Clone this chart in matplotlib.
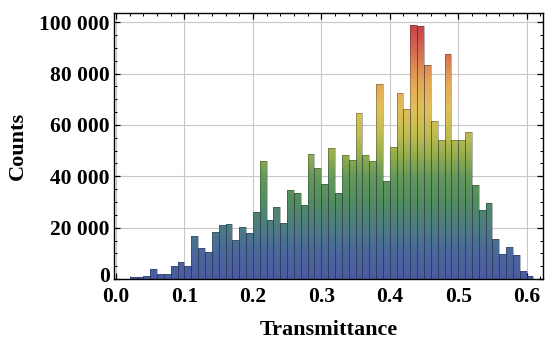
import matplotlib
import numpy as np
import matplotlib.pyplot as plt
from matplotlib.colors import LinearSegmentedColormap
from matplotlib.patches import PathPatch
from matplotlib.path import Path
from matplotlib.ticker import FuncFormatter, MultipleLocator
from matplotlib.transforms import ScaledTranslation

matplotlib.use("Agg")

# histogram data: bins of width 0.01 starting at 0.0
BIN_WIDTH = 0.01
bin_starts = [round(i * BIN_WIDTH, 2) for i in range(62)]
counts = [
    0, 0, 800, 800, 1200, 3900, 2000, 2000, 5200, 6500,
    5000, 16600, 12000, 10400, 18200, 21000, 21300, 15200, 20300, 18000,
    26300, 46100, 23100, 28000, 21800, 34700, 33500, 29000, 48700, 43200,
    37000, 51200, 33500, 48400, 46400, 64600, 48100, 45800, 75800, 38200,
    51300, 72400, 66300, 98800, 98400, 83200, 61700, 54200, 87400, 54200,
    54200, 57200, 36700, 26900, 29500, 15700, 9700, 12300, 9300, 3000,
    1100, 0,
]
x_ticks = [0.0, 0.1, 0.2, 0.3, 0.4, 0.5, 0.6]
y_ticks = [0, 20000, 40000, 60000, 80000, 100000]

Y_MAX = 103500
FONT = "Liberation Serif"

# vertical colour gradient (counts -> colour), dark-rainbow look
gradient_stops = [
    (0, "#4a5ca2"),
    (10000, "#4a679c"),
    (20000, "#4d7c84"),
    (30000, "#528d60"),
    (40000, "#65995a"),
    (48000, "#94ae4e"),
    (56000, "#c0bc50"),
    (66000, "#e0c058"),
    (76000, "#e5aa58"),
    (86000, "#da7a50"),
    (96000, "#cb4c4c"),
    (Y_MAX, "#c44042"),
]
cmap = LinearSegmentedColormap.from_list(
    "darkrainbow", [(v / Y_MAX, c) for v, c in gradient_stops]
)

fig = plt.figure(figsize=(5.48, 3.45), dpi=100)
ax = fig.add_axes([0.208, 0.191, 0.783, 0.771])

bars = ax.bar(
    bin_starts,
    counts,
    width=BIN_WIDTH,
    align="edge",
    facecolor="none",
    edgecolor=(0.12, 0.14, 0.2, 0.4),
    linewidth=0.6,
    zorder=3,
)

gradient = np.linspace(0, 1, 512).reshape(-1, 1)
img = ax.imshow(
    gradient,
    extent=[bin_starts[0], bin_starts[-1] + BIN_WIDTH, 0, Y_MAX],
    origin="lower",
    aspect="auto",
    cmap=cmap,
    interpolation="bilinear",
    zorder=2,
)
clip_path = Path.make_compound_path(
    *[b.get_path().transformed(b.get_patch_transform()) for b in bars if b.get_height() > 0]
)
clip_patch = PathPatch(clip_path, transform=ax.transData, facecolor="none", edgecolor="none")
ax.add_patch(clip_patch)
img.set_clip_path(clip_patch)

ax.set_xlim(-0.003, 0.624)
ax.set_ylim(0, Y_MAX)
ax.set_xticks(x_ticks)
ax.set_yticks(y_ticks)
ax.xaxis.set_minor_locator(MultipleLocator(0.02))
ax.yaxis.set_minor_locator(MultipleLocator(5000))
ax.xaxis.set_major_formatter(FuncFormatter(lambda v, _: f"{v:.1f}"))
ax.yaxis.set_major_formatter(FuncFormatter(lambda v, _: f"{int(v):,}".replace(",", " ")))

ax.grid(True, which="major", color="#c8c8c8", linewidth=0.8, zorder=1)
ax.set_axisbelow(True)

ax.tick_params(which="both", direction="in", top=True, right=True, color="black")
ax.tick_params(which="major", length=4.5, width=0.9)
ax.tick_params(which="minor", length=2.5, width=0.7)
ax.tick_params(axis="x", which="major", pad=6)
ax.tick_params(axis="y", which="major", pad=3)
for spine in ax.spines.values():
    spine.set_linewidth(1.0)
    spine.set_zorder(4)

for label in ax.get_xticklabels() + ax.get_yticklabels():
    label.set_fontfamily(FONT)
    label.set_fontweight("bold")
    label.set_fontsize(15.5)

# lift the "0" on the y axis a little so it clears "0.0"
zero_label = ax.yaxis.get_major_ticks()[0].label1
zero_label.set_transform(zero_label.get_transform() + ScaledTranslation(0, 3 / 72, fig.dpi_scale_trans))

ax.set_xlabel("Transmittance", fontfamily=FONT, fontweight="bold", fontsize=16, labelpad=9)
ax.set_ylabel("Counts", fontfamily=FONT, fontweight="bold", fontsize=16, labelpad=8)

fig.savefig("out.png", dpi=100)
plt.close(fig)
